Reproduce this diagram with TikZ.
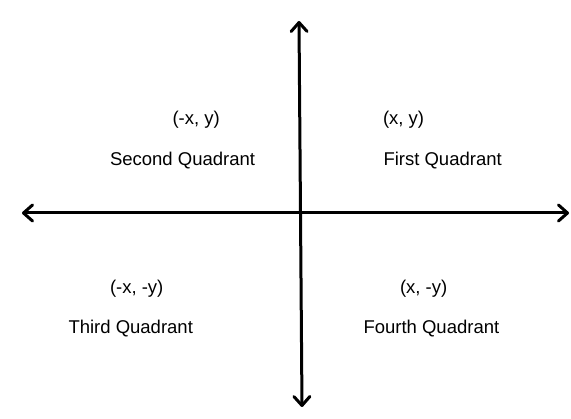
\documentclass[tikz,border=0pt]{standalone}
\usepackage{fontspec}
\setmainfont{Liberation Sans}
\usetikzlibrary{arrows.meta}
\tikzset{
  axis/.style={line width=3pt, {Straight Barb[length=9pt,width=16pt,round]}-{Straight Barb[length=9pt,width=16pt,round]}},
  lbl/.style={anchor=base west, inner sep=0pt, outer sep=0pt, font=\fontsize{18.5}{22}\selectfont}
}
\begin{document}
\begin{tikzpicture}[x=1pt,y=-1pt]
\useasboundingbox (0,0) rectangle (571,419);
\coordinate (L) at (22,213);
\coordinate (R) at (569,213);
\coordinate (T) at (299,21);
\coordinate (B) at (302,407);
\draw[axis] (L) -- (R);
\draw[axis] (T) -- (B);
\node[lbl] (q2c) at (172.5,125) {(-x, y)};
\node[lbl] (q2) at (110,166) {Second Quadrant};
\node[lbl] (q1c) at (383,125) {(x, y)};
\node[lbl] (q1) at (383.5,166) {First Quadrant};
\node[lbl] (q3c) at (110,294) {(-x, -y)};
\node[lbl] (q3) at (68.5,334) {Third Quadrant};
\node[lbl] (q4c) at (400,294) {(x, -y)};
\node[lbl] (q4) at (363.5,334) {Fourth Quadrant};
\end{tikzpicture}
\end{document}
